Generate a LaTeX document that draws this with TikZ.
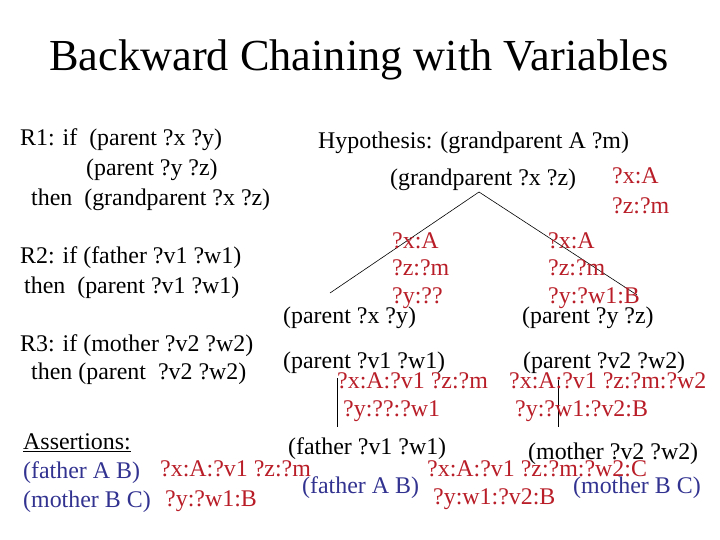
\documentclass[tikz,border=0pt]{standalone}
\usepackage{fontspec}
\setmainfont{Liberation Serif}
\definecolor{bred}{RGB}{185,30,40}
\definecolor{bblue}{RGB}{50,50,145}
\begin{document}
\begin{tikzpicture}[x=1bp,y=-1bp,
  txt/.style={anchor=west,inner sep=0pt,font=\fontsize{24}{28}\selectfont,text height=17.5bp,text depth=5.5bp},
  rtxt/.style={txt,text=bred},
  btxt/.style={txt,text=bblue},
  link/.style={draw=black,line width=0.6bp}]
\useasboundingbox[fill=white] (0,0) rectangle (720,540);
\node[inner sep=0pt,font=\fontsize{44.5}{50}\selectfont] (title) at (359,60) {Backward Chaining with Variables};
% rules
\node[txt] (r1a) at (20,140) {R1: if\ \ (parent ?x ?y)};
\node[txt] (r1b) at (86,170) {(parent ?y ?z)};
\node[txt] (r1c) at (31,200) {then\ \ (grandparent ?x ?z)};
\node[txt] (r2a) at (20,258) {R2: if (father ?v1 ?w1)};
\node[txt] (r2b) at (24,287) {then\ \ (parent ?v1 ?w1)};
\node[txt] (r3a) at (20,345) {R3: if (mother ?v2 ?w2)};
\node[txt] (r3b) at (31,373) {then (parent\ \ ?v2 ?w2)};
% tree
\node[txt] (hyp) at (318,143) {Hypothesis: (grandparent A ?m)};
\node[txt] (gp) at (390,180) {(grandparent ?x ?z)};
\node[rtxt] (b1a) at (612,178) {?x:A};
\node[rtxt] (b1b) at (612,208) {?z:?m};
\coordinate (top) at (479,192);
\coordinate (pl) at (330,293);
\coordinate (pr) at (637,295);
\draw[link] (top) -- (pl);
\draw[link] (top) -- (pr);
\node[rtxt] (b2a) at (392,243) {?x:A};
\node[rtxt] (b2b) at (392,270) {?z:?m};
\node[rtxt] (b2c) at (392,297) {?y:??};
\node[rtxt] (b3a) at (548,243) {?x:A};
\node[rtxt] (b3b) at (548,270) {?z:?m};
\node[rtxt] (b3c) at (548,297) {?y:?w1:B};
\node[txt] (pxy) at (283,317) {(parent ?x ?y)};
\node[txt] (pyz) at (522,317) {(parent ?y ?z)};
\node[txt] (pv1) at (283,362) {(parent ?v1 ?w1)};
\node[txt] (pv2) at (523,362) {(parent ?v2 ?w2)};
\coordinate (v1t) at (337,378);
\coordinate (v1b) at (337,427);
\coordinate (v2t) at (558,380);
\coordinate (v2b) at (558,427);
\draw[link] (v1t) -- (v1b);
\draw[link] (v2t) -- (v2b);
\node[rtxt] (b4a) at (337,382) {?x:A:?v1 ?z:?m};
\node[rtxt] (b4b) at (343,410) {?y:??:?w1};
\node[rtxt] (b5a) at (509,382) {?x:A:?v1 ?z:?m:?w2};
\node[rtxt] (b5b) at (515,410) {?y:?w1:?v2:B};
\node[txt] (fv1) at (288,448) {(father ?v1 ?w1)};
\node[txt] (mv2) at (528,453) {(mother ?v2 ?w2)};
\node[rtxt] (b6a) at (427,470) {?x:A:?v1 ?z:?m:?w2:C};
\node[btxt] (fab2) at (302,487) {(father A B)};
\node[btxt] (mbc2) at (573,487) {(mother B C)};
\node[rtxt] (b6b) at (433,498) {?y:w1:?v2:B};
% assertions
\node[txt] (ass) at (23,443) {\underline{Assertions:}};
\node[btxt] (fab) at (23,472) {(father A B)};
\node[btxt] (mbc) at (23,501) {(mother B C)};
\node[rtxt] (b7a) at (160,470) {?x:A:?v1 ?z:?m};
\node[rtxt] (b7b) at (165,500) {?y:?w1:B};
\end{tikzpicture}
\end{document}
